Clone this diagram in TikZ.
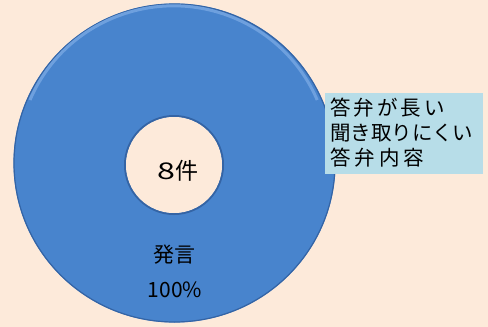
\documentclass[tikz,border=0pt]{standalone}
\usepackage{fontspec}
\newfontfamily\cjk{Noto Sans CJK JP}
\newfontfamily\cjkm{Noto Sans CJK JP Medium}
\definecolor{bg}{RGB}{253,234,218}
\definecolor{donut}{RGB}{72,132,205}
\definecolor{donutdark}{RGB}{52,100,165}
\definecolor{donutlight}{RGB}{110,160,222}
\definecolor{labelbg}{RGB}{183,221,232}
\tikzset{
  lbl/.style={font=\cjk\fontsize{21}{24}\selectfont, text=black, inner sep=0pt},
  legendtxt/.style={font=\cjk\fontsize{20.5}{25}\selectfont, text=black, align=left, inner sep=0pt, anchor=west},
}
\begin{document}
\begin{tikzpicture}[x=1pt,y=-1pt]
\useasboundingbox (0,0) rectangle (488,327);
\fill[bg] (0,0) rectangle (488,327);
% donut
\fill[donut, even odd rule] (174.5,163) ellipse [x radius=161, y radius=159.5] (174,165) circle [radius=48];
\draw[donutdark, line width=1.2pt] (174.5,163) ellipse [x radius=160.5, y radius=159];
\draw[donutlight, line width=3pt] (30,100) arc[start angle=-157, end angle=-23, x radius=156, y radius=154.5];
\draw[donutdark, line width=2pt] (174,165) circle [radius=49];
\fill[bg] (174,165) circle [radius=48];
% legend box
\fill[labelbg] (325,93) rectangle (483,174);
\node[legendtxt] (l1) at (330,108) {答\kern3pt 弁\kern3pt が\kern3pt 長\kern3pt い};
\node[legendtxt] (l2) at (330,133) {聞き取りにくい};
\node[legendtxt] (l3) at (330,158) {答\kern4pt 弁\kern4pt 内\kern4pt 容};
% labels
\node[lbl, font=\cjk\fontsize{23}{26}\selectfont] (c) at (178,171) {\scalebox{1.4}[1]{8}\kern1pt 件};
\node[lbl] (p) at (174,255) {発言};
\node[lbl] (q) at (175,290) {100\%};
\end{tikzpicture}
\end{document}
